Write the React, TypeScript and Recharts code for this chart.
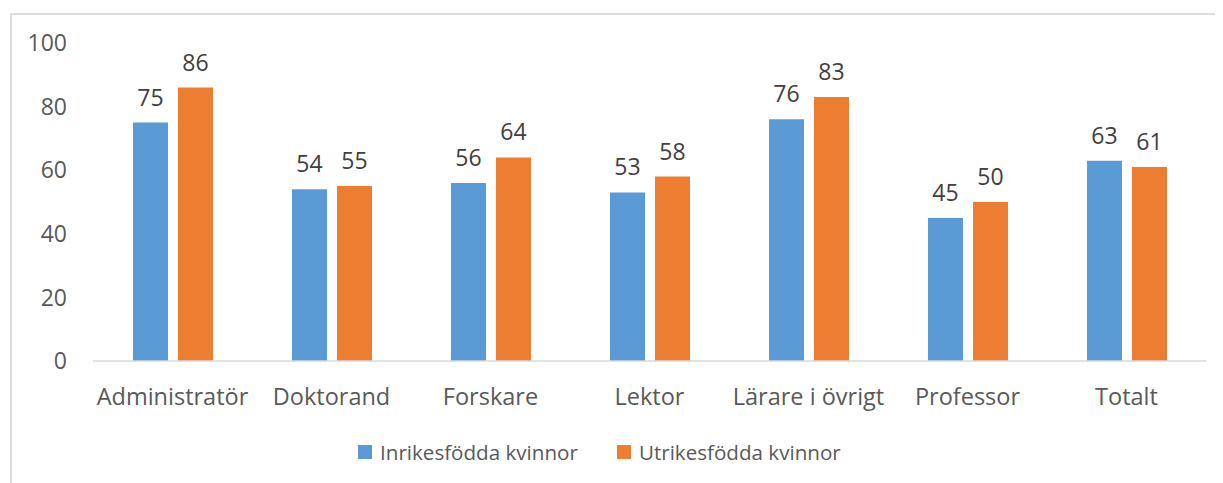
import React from "react";
import { BarChart, Bar, XAxis, YAxis, LabelList, Legend } from "recharts";

const categories = ["Administratör", "Doktorand", "Forskare", "Lektor", "Lärare i övrigt", "Professor", "Totalt"];
const inrikes = [75, 54, 56, 53, 76, 45, 63];
const utrikes = [86, 55, 64, 58, 83, 50, 61];
const yTicks = [0, 20, 40, 60, 80, 100];
const seriesNames = ["Inrikesfödda kvinnor", "Utrikesfödda kvinnor"];
const colors = ["#5B9BD5", "#ED7D31"];

const data = categories.map((c, i) => ({ name: c, inrikes: inrikes[i], utrikes: utrikes[i] }));

const FONT = "'Open Sans', sans-serif";

const LegendContent = (props: any) => {
  const payload = props.payload || [];
  return (
    <div style={{ height: 40, display: "flex", alignItems: "center", paddingLeft: 350, fontFamily: FONT, fontSize: 20.6, color: "#595959" }}>
      {payload.map((p: any, i: number) => (
        <div key={i} style={{ display: "flex", alignItems: "center", marginRight: 39 }}>
          <div style={{ width: 14, height: 14, background: p.color, marginRight: 8 }} />
          <span>{p.value}</span>
        </div>
      ))}
    </div>
  );
};

export default function App() {
  return (
    <div style={{ position: "relative", width: 1215, height: 475, overflow: "hidden" }}>
      <div style={{ position: "absolute", left: 2, top: 5, width: 1300, height: 600, border: "2px solid #DDDDDD", boxSizing: "border-box" }} />
      <div style={{ position: "absolute", left: 0, top: 0 }}>
        <BarChart width={1215} height={475} data={data} margin={{ top: 35, right: 17, left: 0, bottom: 22 }} barSize={35} barGap={10}>
          <YAxis
            width={85}
            domain={[0, 100]}
            ticks={yTicks}
            axisLine={false}
            tickLine={false}
            tickSize={0}
            tickMargin={26}
            tick={{ fill: "#595959", fontSize: 23, fontFamily: FONT }}
          />
          <XAxis
            dataKey="name"
            height={60}
            axisLine={{ stroke: "#D9D9D9", strokeWidth: 1.5 }}
            tickLine={false}
            tickSize={0}
            tickMargin={27}
            interval={0}
            tick={{ fill: "#595959", fontSize: 23.5, fontFamily: FONT }}
          />
          <Legend content={<LegendContent />} verticalAlign="bottom" wrapperStyle={{ bottom: 11, left: 0, width: 1215 }} />
          <Bar dataKey="inrikes" name={seriesNames[0]} fill={colors[0]} isAnimationActive={false}>
            <LabelList dataKey="inrikes" position="top" offset={17} fill="#404040" fontSize={23} fontFamily={FONT} />
          </Bar>
          <Bar dataKey="utrikes" name={seriesNames[1]} fill={colors[1]} isAnimationActive={false}>
            <LabelList dataKey="utrikes" position="top" offset={17} fill="#404040" fontSize={23} fontFamily={FONT} />
          </Bar>
        </BarChart>
      </div>
    </div>
  );
}
